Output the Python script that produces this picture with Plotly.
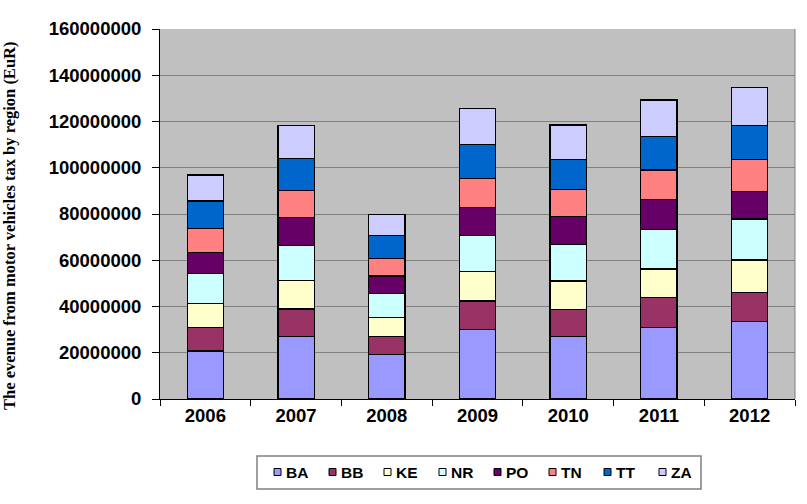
import plotly.graph_objects as go

# Motor vehicle tax revenue by region, stacked per year (EUR)
years = ["2006", "2007", "2008", "2009", "2010", "2011", "2012"]
regions = ["BA", "BB", "KE", "NR", "PO", "TN", "TT", "ZA"]

BA = [20.8e6, 26.9e6, 19.3e6, 30.1e6, 26.9e6, 31.0e6, 33.4e6]
BB = [10.2e6, 12.0e6, 7.9e6, 12.3e6, 11.9e6, 12.8e6, 12.7e6]
KE = [10.4e6, 12.3e6, 8.1e6, 12.6e6, 12.2e6, 12.4e6, 14.0e6]
NR = [13.0e6, 15.1e6, 10.4e6, 15.6e6, 15.9e6, 17.2e6, 17.7e6]
PO = [8.9e6, 12.1e6, 7.5e6, 12.3e6, 11.9e6, 12.7e6, 12.1e6]
TN = [10.5e6, 11.7e6, 7.6e6, 12.5e6, 11.9e6, 12.9e6, 13.5e6]
TT = [11.8e6, 14.0e6, 9.8e6, 14.7e6, 13.0e6, 14.4e6, 14.7e6]
ZA = [11.3e6, 14.0e6, 9.3e6, 15.6e6, 14.8e6, 15.9e6, 16.7e6]

series = [BA, BB, KE, NR, PO, TN, TT, ZA]
colors = ["#9999FF", "#993366", "#FFFFCC", "#CCFFFF",
          "#660066", "#FF8080", "#0066CC", "#CCCCFF"]

W, H = 807, 504
ML, MR, MT, MB = 160, 12, 29, 105
PW, PH = W - ML - MR, H - MT - MB

SANS = "Liberation Sans, Arial, sans-serif"
SERIF = "Liberation Serif, Times New Roman, serif"


def px_x(px):
    return (px - ML) / PW


def px_y(py):
    return (H - MB - py) / PH


fig = go.Figure()
for name, vals, col in zip(regions, series, colors):
    fig.add_trace(go.Bar(
        x=years, y=vals, name=name,
        marker=dict(color=col, line=dict(color="#000000", width=1.2)),
        showlegend=False,
    ))

fig.update_layout(
    barmode="stack",
    bargap=0.6,
    width=W, height=H,
    margin=dict(l=ML, r=MR, t=MT, b=MB),
    paper_bgcolor="#FFFFFF",
    plot_bgcolor="#C0C0C0",
    font=dict(family=SANS, size=15, color="#000000"),
)

fig.update_xaxes(
    type="category",
    showgrid=False,
    showline=True, linecolor="#000000", linewidth=1,
    ticks="outside", tickson="boundaries", ticklen=6, tickcolor="#000000",
    tickfont=dict(family=SANS, size=18.5, weight="bold"),
)

fig.update_yaxes(
    range=[0, 160e6],
    tick0=0, dtick=20e6,
    tickformat="d",
    showgrid=True, gridcolor="#808080", gridwidth=1,
    showline=True, linecolor="#000000", linewidth=1,
    ticks="outside", ticklen=7, tickcolor="#000000",
    ticklabelstandoff=7,
    tickfont=dict(family=SANS, size=18.5, weight="bold"),
    zeroline=False,
)

# y-axis title
fig.add_annotation(
    text="The evenue from motor vehicles tax by region (EuR)",
    xref="paper", yref="paper", x=px_x(9), y=px_y(226),
    xanchor="center", yanchor="middle", textangle=-90, showarrow=False,
    font=dict(family=SERIF, size=16.5, weight="bold", color="#000000"),
)

# plot-area frame on the right side
fig.add_shape(type="line", xref="paper", yref="paper", x0=1, x1=1, y0=0, y1=1,
              line=dict(color="#808080", width=1))

# legend box with swatches
fig.add_shape(type="rect", xref="paper", yref="paper",
              x0=px_x(257), x1=px_x(701), y0=px_y(456), y1=px_y(489),
              line=dict(color="#808080", width=1.5), fillcolor="#FFFFFF")
legend_y = 472
for i, (name, col) in enumerate(zip(regions, colors)):
    sx = 274 + 55 * i
    fig.add_shape(type="rect", xref="paper", yref="paper",
                  x0=px_x(sx), x1=px_x(sx + 7),
                  y0=px_y(legend_y + 3.5), y1=px_y(legend_y - 3.5),
                  line=dict(color="#000000", width=1), fillcolor=col)
    fig.add_annotation(text=name, xref="paper", yref="paper",
                       x=px_x(sx + 10), y=px_y(legend_y),
                       xanchor="left", yanchor="middle", showarrow=False,
                       font=dict(family=SANS, size=15.5, weight="bold", color="#000000"))

fig.write_html("out.html")
